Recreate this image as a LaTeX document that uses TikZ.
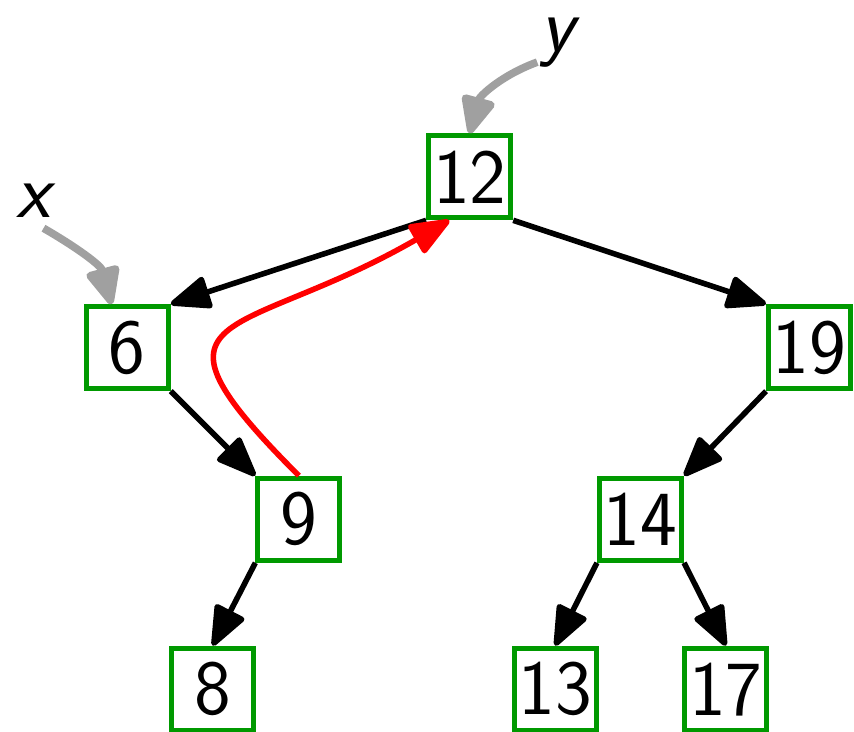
\documentclass[tikz,border=0pt]{standalone}
\usepackage{tikz}
\usetikzlibrary{arrows.meta}
\definecolor{treegreen}{RGB}{0, 153, 0}
\definecolor{ptrgray}{RGB}{160, 160, 160}

\begin{document}
\begin{tikzpicture}[
  key/.style={draw=treegreen, line width=0.06cm, fill=white, minimum size=0.96cm, inner sep=0pt, font=\fontsize{26}{31}\selectfont\sffamily},
  ptr/.style={font=\fontsize{26}{31}\selectfont\sffamily\itshape, inner sep=1pt},
  edge/.style={line width=0.065cm, line join=round, -{Triangle[round, length=0.52cm, width=0.4cm]}},
  ptrarrow/.style={ptrgray, line width=0.09cm, line join=round, -{Triangle[round, length=0.5cm, width=0.42cm]}}
]
\useasboundingbox (0,0) rectangle (10,-8.571);

% Positions
\coordinate (c12) at (5.5,-2.07);
\coordinate (c6) at (1.49,-4.07);
\coordinate (c19) at (9.48,-4.07);
\coordinate (c9) at (3.5,-6.08);
\coordinate (c14) at (7.5,-6.08);
\coordinate (c8) at (2.49,-8.07);
\coordinate (c13) at (6.5,-8.07);
\coordinate (c17) at (8.5,-8.07);

% Keys
\node[key] (n12) at (c12) {12};
\node[key] (n6) at (c6) {6};
\node[key] (n19) at (c19) {19};
\node[key] (n9) at (c9) {9};
\node[key] (n14) at (c14) {14};
\node[key] (n8) at (c8) {8};
\node[key] (n13) at (c13) {13};
\node[key] (n17) at (c17) {17};

% Tree edges
\draw[edge] (n12.south west) -- (n6.north east);
\draw[edge] (n12.south east) -- (n19.north west);
\draw[edge] (n6.south east) -- (n9.north west);
\draw[edge] (n9.south west) -- (n8.north);
\draw[edge] (n19.south west) -- (n14.north east);
\draw[edge] (n14.south west) -- (n13.north);
\draw[edge] (n14.south east) -- (n17.north);

% Successor step
\draw[edge, red] (n9.north) to[out=135, in=210, looseness=2.1] (n12.-115);

% Pointers
\node[ptr, anchor=base] (xlab) at (0.39,-2.55) {x};
\node[ptr, anchor=base] (ylab) at (6.53,-0.6) {y};
\draw[ptrarrow] ([shift={(-0.12,-0.08)}]xlab.south east) to[out=-30, in=105] (n6.110);
\draw[ptrarrow] ([yshift=0.1cm]ylab.south west) to[out=200, in=75] (n12.north);
\end{tikzpicture}
\end{document}
